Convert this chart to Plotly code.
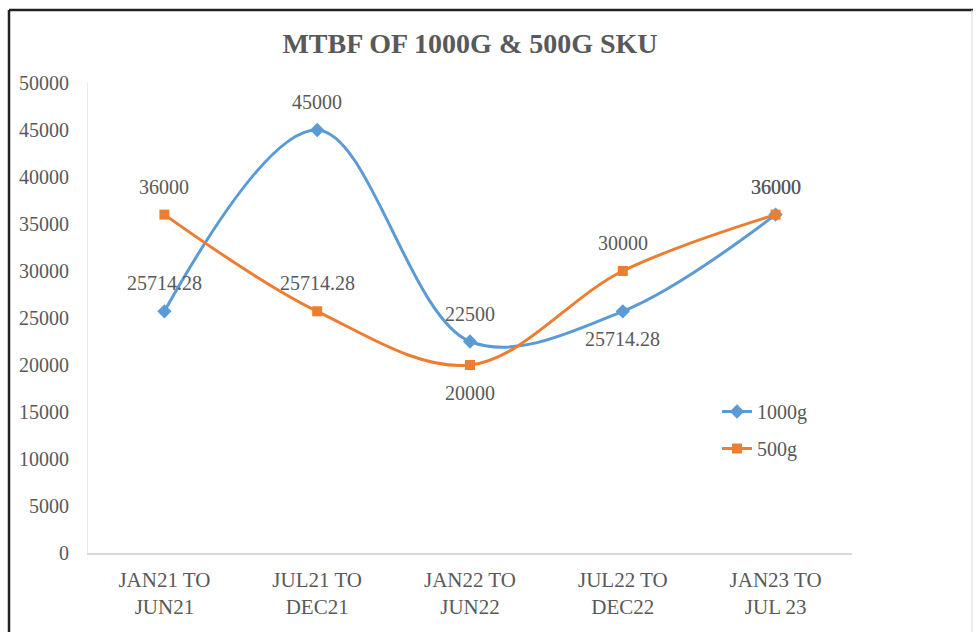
import plotly.graph_objects as go

categories = ["JAN21 TO<br>JUN21", "JUL21 TO<br>DEC21", "JAN22 TO<br>JUN22", "JUL22 TO<br>DEC22", "JAN23 TO<br>JUL 23"]
mtbf_1000g = [25714.28, 45000, 22500, 25714.28, 36000]
mtbf_500g = [36000, 25714.28, 20000, 30000, 36000]
labels_1000g = ["25714.28", "45000", "22500", "25714.28", "36000"]
labels_500g = ["36000", "25714.28", "20000", "30000", "36000"]
label_side_1000g = [1, 1, 1, -1, 1]
label_side_500g = [1, 1, -1, 1, 1]
y_ticks = list(range(0, 50001, 5000))
y_tick_text = [str(v) for v in y_ticks]

BLUE = "#5B9BD5"
ORANGE = "#ED7D31"
GRAY = "#595959"
FONT = "Liberation Serif, Times New Roman, serif"

W, H = 979, 632
L, R, T, B = 88, 127, 83, 79
PW, PH = W - L - R, H - T - B

fig = go.Figure()
fig.add_trace(go.Scatter(
    x=list(range(len(categories))), y=mtbf_1000g, name="1000g", mode="lines+markers",
    line=dict(color=BLUE, width=3, shape="spline", smoothing=1.0),
    marker=dict(symbol="diamond", size=11, color=BLUE),
    legendgroup="a",
))
fig.add_trace(go.Scatter(
    x=list(range(len(categories))), y=mtbf_500g, name="500g", mode="lines+markers",
    line=dict(color=ORANGE, width=3, shape="spline", smoothing=1.0),
    marker=dict(symbol="square", size=10, color=ORANGE),
    legendgroup="b",
))

annotations = []
for vals, labs, sides in [(mtbf_1000g, labels_1000g, label_side_1000g), (mtbf_500g, labels_500g, label_side_500g)]:
    for i, (v, t, s) in enumerate(zip(vals, labs, sides)):
        annotations.append(dict(
            x=i, y=v, xref="x", yref="y", text=t, showarrow=False,
            yshift=28 * s, font=dict(family=FONT, size=20, color=GRAY),
        ))

def px_to_paper_x(px):
    return (px - L) / PW

def px_to_paper_y(py):
    return (H - B - py) / PH

shapes = [
    dict(type="line", xref="paper", yref="paper",
         x0=px_to_paper_x(9), x1=px_to_paper_x(9), y0=px_to_paper_y(10), y1=px_to_paper_y(640),
         line=dict(color="#222222", width=2.5)),
    dict(type="line", xref="paper", yref="paper",
         x0=px_to_paper_x(9), x1=px_to_paper_x(973), y0=px_to_paper_y(10), y1=px_to_paper_y(10),
         line=dict(color="#222222", width=2.5)),
    dict(type="line", xref="paper", yref="paper",
         x0=px_to_paper_x(972), x1=px_to_paper_x(972), y0=px_to_paper_y(10), y1=px_to_paper_y(640),
         line=dict(color="#DDDDDD", width=1)),
]

fig.update_layout(
    width=W, height=H,
    margin=dict(l=L, r=R, t=T, b=B),
    paper_bgcolor="white", plot_bgcolor="white",
    title=dict(text="<b>MTBF OF 1000G &amp; 500G SKU</b>", x=0.5, xref="paper", xanchor="center",
               y=1 - 43 / H, yanchor="middle",
               font=dict(family=FONT, size=28, color=GRAY)),
    font=dict(family=FONT, size=20, color=GRAY),
    xaxis=dict(
        tickmode="array", tickvals=list(range(len(categories))), ticktext=categories,
        range=[-0.5, len(categories) - 0.5], showgrid=False, zeroline=False,
        showline=True, linecolor="#D9D9D9", linewidth=1.5, ticks="",
        tickfont=dict(family=FONT, size=21, color=GRAY), ticklabelstandoff=7,
    ),
    yaxis=dict(
        range=[0, 50000], tickmode="array", tickvals=y_ticks, ticktext=y_tick_text,
        showgrid=False, zeroline=False,
        showline=True, linecolor="#EBEBEB", linewidth=1, ticks="",
        tickfont=dict(family=FONT, size=20, color=GRAY), ticklabelstandoff=14,
    ),
    legend=dict(
        x=px_to_paper_x(717), y=px_to_paper_y(392), xanchor="left", yanchor="top",
        font=dict(family=FONT, size=20, color=GRAY), bgcolor="rgba(0,0,0,0)",
        tracegroupgap=8, traceorder="grouped", itemwidth=30,
    ),
    annotations=annotations,
    shapes=shapes,
)

fig.write_html("out.html", config={"displayModeBar": False},
               post_script="document.body.style.margin='0';")
